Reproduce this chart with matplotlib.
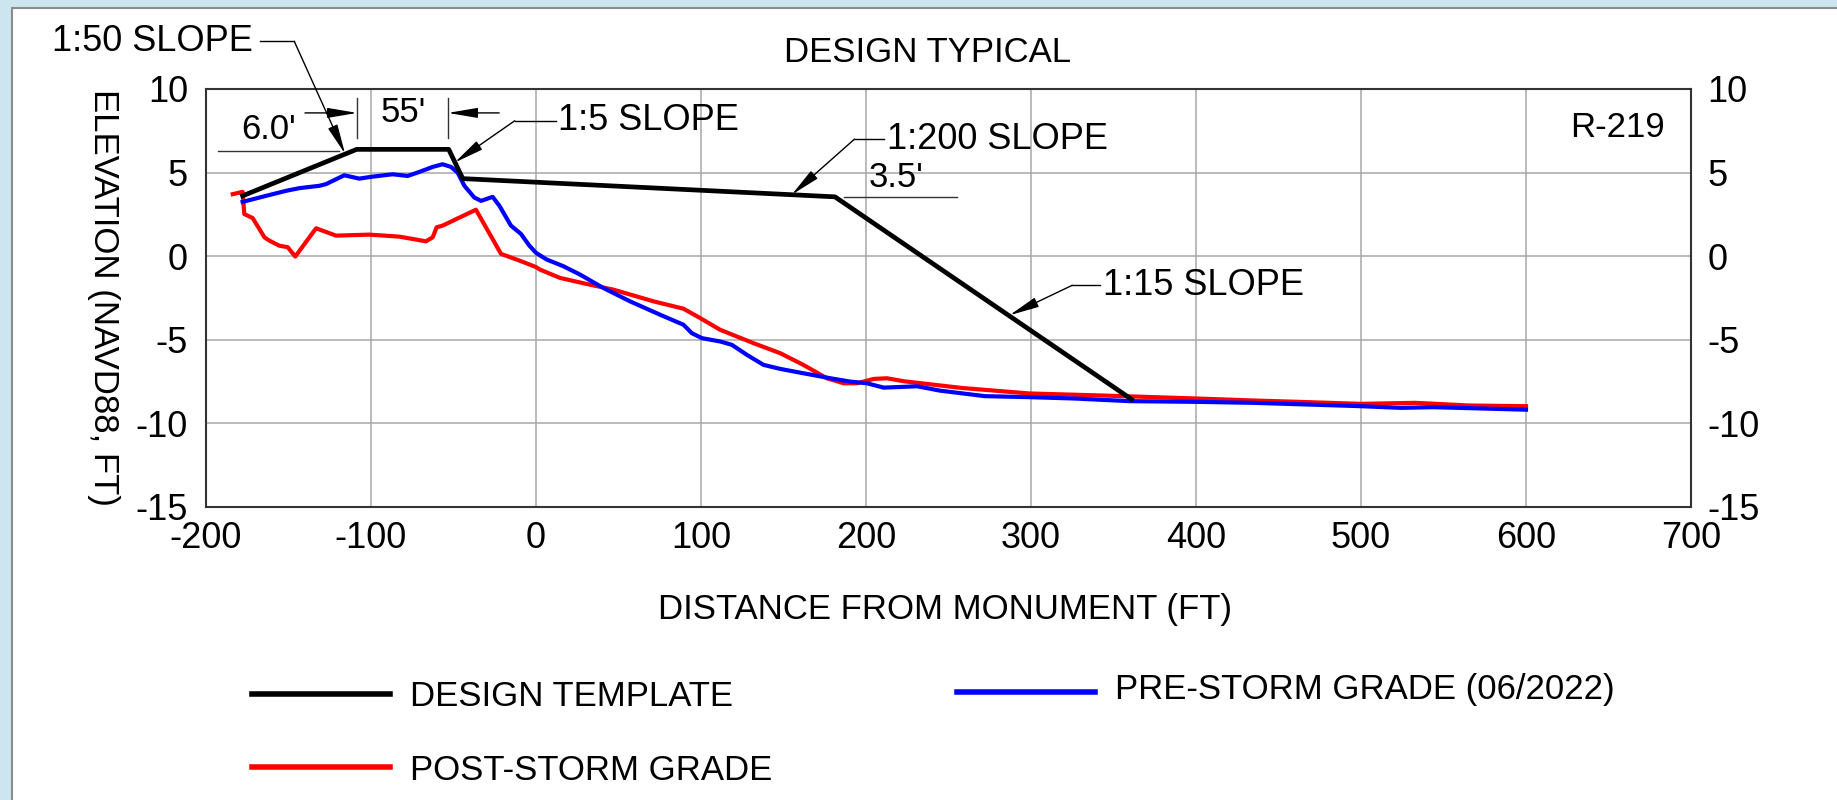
import matplotlib
matplotlib.use("Agg")
import matplotlib.pyplot as plt
from matplotlib.patches import Rectangle
from matplotlib.lines import Line2D

plt.rcParams['font.family'] = ['Liberation Sans', 'DejaVu Sans']
plt.rcParams['axes.unicode_minus'] = False

# design template profile (black)
design_x = [-177.8, -108.7, -52.9, -44.4, 181.2, 360.8]
design_y = [3.61, 6.39, 6.39, 4.64, 3.55, -8.55]

# pre-storm grade 06/2022 (blue)
pre_x = [-177.8, -163.6, -151.5, -143.4, -131.3, -127.3, -116.2, -107.1, -99, -86.9,
         -77.8, -70.7, -62.6, -56.6, -51.5, -47.5, -43.4, -37.4, -33.3, -26.3,
         -22.2, -15.2, -9.1, -4.0, 0, 6.5, 16.6, 26.7, 40.8, 57,
         75.2, 89.4, 94.4, 100.5, 111.6, 118.7, 127.8, 137.9, 148, 162,
         178.4, 190.5, 200.6, 210.7, 231, 244.8, 272, 299, 326, 360,
         400, 435, 500, 524, 543.7, 600]
pre_y = [3.25, 3.61, 3.91, 4.07, 4.21, 4.31, 4.84, 4.64, 4.76, 4.90,
         4.80, 5.04, 5.34, 5.50, 5.34, 5.0, 4.21, 3.51, 3.31, 3.55,
         3.02, 1.83, 1.33, 0.63, 0.2, -0.2, -0.6, -1.1, -1.9, -2.7,
         -3.5, -4.1, -4.6, -4.9, -5.1, -5.3, -5.9, -6.5, -6.74, -7.0,
         -7.3, -7.5, -7.6, -7.86, -7.78, -8.04, -8.37, -8.43, -8.51, -8.67,
         -8.71, -8.77, -8.97, -9.07, -9.03, -9.18]

# post-storm grade (red)
post_x = [-183.8, -177.8, -176.8, -171.7, -164.6, -161.6, -155.6, -150.5, -145.9, -133.3,
          -121.2, -101, -82.8, -66.7, -62.6, -60.2, -56.6, -36.4, -21.2, -10.1,
          0, 2.4, 14.6, 30.7, 46.9, 71.2, 89.4, 99.5, 111.6, 131.8,
          148, 162, 176.3, 186.4, 194.5, 204.7, 212.7, 223, 258, 299,
          342.7, 400, 435, 462, 500, 533, 565.5, 600]
post_y = [3.71, 3.85, 2.52, 2.28, 1.13, 0.93, 0.63, 0.54, -0.02, 1.67,
          1.23, 1.29, 1.17, 0.89, 1.13, 1.73, 1.83, 2.78, 0.14, -0.26,
          -0.65, -0.8, -1.3, -1.66, -2.0, -2.7, -3.14, -3.7, -4.4, -5.2,
          -5.8, -6.5, -7.3, -7.6, -7.6, -7.34, -7.3, -7.48, -7.88, -8.21,
          -8.33, -8.51, -8.63, -8.71, -8.83, -8.77, -8.93, -8.97]

x_ticks = [-200, -100, 0, 100, 200, 300, 400, 500, 600, 700]
y_ticks = [-15, -10, -5, 0, 5, 10]

W, H = 1837, 800
fig = plt.figure(figsize=(W / 100, H / 100), dpi=100, facecolor='#cde5ee')
fig.patches.append(Rectangle((12 / W, -0.01), 1.0, 1.01 - 8 / H, transform=fig.transFigure,
                             facecolor='white', edgecolor='#8c8c8c', lw=1.5, zorder=-1))

ax = fig.add_axes([206 / W, 1 - 507 / H, 1485 / W, 418 / H])
ax.plot(post_x, post_y, color='#ff0000', lw=3.0, zorder=3)
ax.plot(pre_x, pre_y, color='#0000ff', lw=3.0, zorder=4)
ax.plot(design_x, design_y, color='black', lw=3.4, zorder=5)

ax.set_xlim(-200, 700)
ax.set_ylim(-15, 10)
ax.set_xticks(x_ticks)
ax.set_yticks(y_ticks)
ax.grid(color='#a8a8a8', lw=1.1)
ax.set_axisbelow(True)
for s in ax.spines.values():
    s.set_color('#333333')
    s.set_linewidth(1.5)
ax.tick_params(axis='y', length=0, pad=13, labelsize=26)
ax.tick_params(axis='x', length=0, pad=10, labelsize=26)

ax2 = ax.twinx()
ax2.set_ylim(-15, 10)
ax2.set_yticks(y_ticks)
ax2.tick_params(axis='y', length=0, pad=12, labelsize=26)
for s in ax2.spines.values():
    s.set_visible(False)

fig.text(928 / W, 1 - 52 / H, 'DESIGN TYPICAL', fontsize=25, ha='center', va='center')
fig.text(945 / W, 1 - 609 / H, 'DISTANCE FROM MONUMENT (FT)', fontsize=25, ha='center', va='center')
fig.text(103 / W, 1 - 297 / H, 'ELEVATION (NAVD88, FT)', fontsize=25, ha='center', va='center',
         rotation=270)

ax.text(684, 7.7, 'R-219', fontsize=25, ha='right', va='center')

arrow = dict(arrowstyle='-|>,head_length=1.3,head_width=0.22', color='black', lw=1.0,
             mutation_scale=14, shrinkA=0, shrinkB=0)


def leader(tip, knee, end, label, tx):
    ax.plot([knee[0], end[0]], [knee[1], end[1]], color='black', lw=1.0, clip_on=False)
    ax.annotate('', xy=tip, xytext=knee, arrowprops=arrow, annotation_clip=False)
    ax.text(tx, knee[1], label, fontsize=26, ha='left' if tx > knee[0] else 'right',
            va='center', clip_on=False)


leader((-115.7, 6.12), (-146.5, 12.85), (-167.2, 12.85), '1:50 SLOPE', -171.5)
leader((-49.3, 5.6), (-12.9, 8.1), (12.0, 8.1), '1:5 SLOPE', 13.5)
leader((155, 3.68), (193, 7.0), (211, 7.0), '1:200 SLOPE', 212.5)
leader((287, -3.53), (325, -1.74), (342, -1.74), '1:15 SLOPE', 343.5)

# dimension marks
ax.plot([-193, -119.5], [6.3, 6.3], color='#333333', lw=1.0, clip_on=False)
ax.text(-162, 7.55, "6.0'", fontsize=25, ha='center', va='center')
ax.plot([186.8, 255], [3.55, 3.55], color='#333333', lw=1.0, clip_on=False)
ax.text(218, 4.68, "3.5'", fontsize=25, ha='center', va='center')
for ex in (-108.4, -53.4):
    ax.plot([ex, ex], [7.07, 9.45], color='#333333', lw=1.0, clip_on=False)
ax.annotate('', xy=(-108.4, 8.57), xytext=(-140, 8.57), arrowprops=arrow, annotation_clip=False)
ax.annotate('', xy=(-53.4, 8.57), xytext=(-22.3, 8.57), arrowprops=arrow, annotation_clip=False)
ax.text(-80.5, 8.6, "55'", fontsize=25, ha='center', va='center')

# legend drawn by hand, matching the original layout
legend_items = [((252, 390, 694), (410, 696), 'black', 'DESIGN TEMPLATE'),
                ((252, 390, 767), (410, 770), '#ff0000', 'POST-STORM GRADE'),
                ((957, 1095, 692), (1115, 689), '#0000ff', 'PRE-STORM GRADE (06/2022)')]
for (x0, x1, ly), (tx, ty), col, lab in legend_items:
    fig.add_artist(Line2D([x0 / W, x1 / W], [1 - ly / H, 1 - ly / H], color=col, lw=4,
                          transform=fig.transFigure))
    fig.text(tx / W, 1 - ty / H, lab, fontsize=25, ha='left', va='center')

fig.savefig('out.png', dpi=100, facecolor=fig.get_facecolor())
